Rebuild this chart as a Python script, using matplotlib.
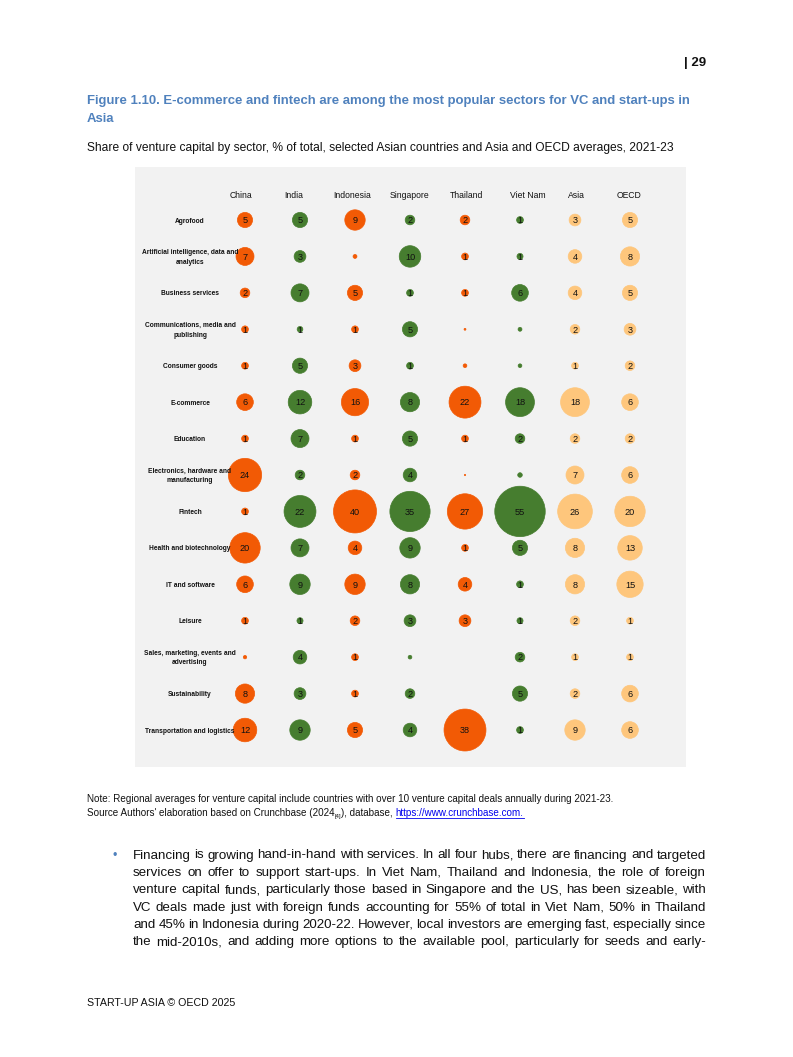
import matplotlib
matplotlib.use("Agg")
import matplotlib.pyplot as plt
from matplotlib import font_manager
import numpy as np

# ---------------- data ----------------
columns = ["China", "India", "Indonesia", "Singapore", "Thailand", "Viet Nam", "Asia", "OECD"]
sectors = ["Agrofood", "Artificial intelligence, data and\nanalytics", "Business services",
           "Communications, media and\npublishing", "Consumer goods", "E-commerce", "Education",
           "Electronics, hardware and\nmanufacturing", "Fintech", "Health and biotechnology",
           "IT and software", "Leisure", "Sales, marketing, events and\nadvertising",
           "Sustainability", "Transportation and logistics"]
china     = [5, 7, 2, 1, 1, 6, 1, 24, 1, 20, 6, 1, 0.25, 8, 12]
india     = [5, 3, 7, 0.7, 5, 12, 7, 2, 22, 7, 9, 0.8, 4, 3, 9]
indonesia = [9, 0.33, 5, 1, 3, 16, 1, 2, 40, 4, 9, 2, 1, 1, 5]
singapore = [2, 10, 1, 5, 1, 8, 5, 4, 35, 9, 8, 3, 0.3, 2, 4]
thailand  = [2, 1, 1, 0.08, 0.3, 22, 1, 0.04, 27, 1, 4, 3, 0, 0, 38]
viet_nam  = [1, 0.8, 6, 0.33, 0.3, 18, 2, 0.45, 55, 5, 1, 0.8, 2, 5, 1]
asia      = [3, 4, 4, 2, 1, 18, 2, 7, 26, 8, 8, 2, 1, 2, 9]
oecd      = [5, 8, 5, 3, 2, 6, 2, 6, 20, 13, 15, 1, 1, 6, 6]
series = [china, india, indonesia, singapore, thailand, viet_nam, asia, oecd]

ORANGE, GREEN, LIGHT = "#F25A05", "#467D2F", "#FEC67C"
col_colors = [ORANGE, GREEN, ORANGE, GREEN, ORANGE, GREEN, LIGHT, LIGHT]
header_shift_px = [-4, -6, -3, 0, 1, 8, 1, -1]

# ---------------- fonts ----------------
def has_font(name):
    try:
        font_manager.findfont(name, fallback_to_default=False)
        return True
    except Exception:
        return False

BASE = "Liberation Sans" if has_font("Liberation Sans") else "DejaVu Sans"
NARROW = "Liberation Sans Narrow" if has_font("Liberation Sans Narrow") else BASE
plt.rcParams["font.family"] = [BASE, "DejaVu Sans"]

W, H = 793, 1057
fig = plt.figure(figsize=(W / 100, H / 100), dpi=100)
fig.patch.set_facecolor("white")

def fx(x):
    return x / W

def fy(y):
    return 1 - y / H

# ---------------- chart panel ----------------
L, R, T, B = 135, 686, 167, 767
ax = fig.add_axes([fx(L), fy(B), (R - L) / W, (B - T) / H])
ax.set_facecolor("#F2F2F2")
for s in ax.spines.values():
    s.set_visible(False)
ax.set_xticks([])
ax.set_yticks([])
x0, dx = 245, 55.0
y0, dy = 220, 36.43
ax.set_xlim((L - x0) / dx, (R - x0) / dx)
ax.set_ylim((B - y0) / dy, (T - y0) / dy)

K = 24.0  # points^2 per unit
rows = np.arange(len(sectors))
for i, (vals, c) in enumerate(zip(series, col_colors)):
    v = np.array(vals, dtype=float)
    mask = v > 0
    ax.scatter(np.full(mask.sum(), i), rows[mask], s=v[mask] * K, color=c,
               linewidths=0.5, edgecolors=c, zorder=2)
    for j, val in enumerate(vals):
        if val >= 0.5:
            ax.text(i, j + 0.02, f"{int(round(val))}", ha="center", va="center",
                    fontsize=6.6, color="#111111", zorder=3)

for i, name in enumerate(columns):
    ax.text(i + header_shift_px[i] / dx, (195 - y0) / dy, name, ha="center", va="center",
            fontsize=6.2, color="#111111")

for j, name in enumerate(sectors):
    ax.text((190 - x0) / dx, j + 0.03, name, ha="center", va="center", fontsize=4.8,
            fontweight="bold", color="#111111", linespacing=1.45)

# ---------------- page text ----------------
renderer = fig.canvas.get_renderer()

def width_px(t):
    return t.get_window_extent(renderer=renderer).width

def put(x, y, s, **kw):
    kw.setdefault("va", "baseline")
    return fig.text(fx(x), fy(y), s, **kw)

def fit(x, y, s, target, size, **kw):
    t = put(x, y, s, fontsize=size, **kw)
    w = width_px(t)
    if w > 0:
        t.set_fontsize(size * target / w)
    return t

BLUE = "#4F81BD"
put(706, 66, "| 29", ha="right", fontsize=9.5, fontweight="bold", color="#111111")

t1 = fit(87, 104, "Figure 1.10. E-commerce and fintech are among the most popular sectors for VC and start-ups in",
         603, 9, fontweight="bold", color=BLUE, family=[NARROW, BASE])
put(87, 122.5, "Asia", fontsize=t1.get_fontsize(), fontweight="bold", color=BLUE, family=[NARROW, BASE])

fit(87, 151.5, "Share of venture capital by sector, % of total, selected Asian countries and Asia and OECD averages, 2021-23",
    589, 8, color="#111111", family=[NARROW, BASE])

note = fit(87, 802.5, "Note: Regional averages for venture capital include countries with over 10 venture capital deals annually during 2021-23.",
           537, 6, color="#111111", family=[NARROW, BASE])
nsz = note.get_fontsize()

runs = [("Source Authors' elaboration based on Crunchbase (2024", {}),
        ("[4]", {"small": True}),
        ("), database, ", {}),
        ("https://www.crunchbase.com.", {"link": True})]
x = 87
for s, opt in runs:
    if opt.get("small"):
        t = put(x, 818.0, s, fontsize=nsz * 0.6, color="#111111", family=[NARROW, BASE])
    elif opt.get("link"):
        t = put(x, 816.5, s, fontsize=nsz, color="#0000EE", family=[NARROW, BASE])
    else:
        t = put(x, 816.5, s, fontsize=nsz, color="#111111", family=[NARROW, BASE])
    w = width_px(t)
    if opt.get("link"):
        fig.add_artist(plt.Line2D([fx(x), fx(x + w)], [fy(818.3), fy(818.3)],
                                  color="#0000EE", linewidth=0.6, transform=fig.transFigure))
    x += w

# bullet paragraph (justified)
para = ["Financing is growing hand-in-hand with services. In all four hubs, there are financing and targeted",
        "services on offer to support start-ups. In Viet Nam, Thailand and Indonesia, the role of foreign",
        "venture capital funds, particularly those based in Singapore and the US, has been sizeable, with",
        "VC deals made just with foreign funds accounting for 55% of total in Viet Nam, 50% in Thailand",
        "and 45% in Indonesia during 2020-22. However, local investors are emerging fast, especially since",
        "the mid-2010s, and adding more options to the available pool, particularly for seeds and early-"]
pl, pr = 133, 706
ref_size = 10.0
em10 = ref_size * 100 / 72.0
cands = []
for ln in para:
    wds = ln.split(" ")
    probes = [put(0, 0, wd, fontsize=ref_size, family=[NARROW, BASE]) for wd in wds]
    S = sum(width_px(p) for p in probes)
    for p in probes:
        p.remove()
    cands.append(ref_size * (pr - pl) / (S + (len(wds) - 1) * 0.2 * em10))
psize = min(cands)

put(112, 858.5, "\u2022", fontsize=9, color=BLUE)
for k, line in enumerate(para):
    yb = 858.5 + k * 17.35
    words = line.split(" ")
    texts = [put(0, yb, wd, fontsize=psize, color="#111111", family=[NARROW, BASE]) for wd in words]
    ws = [width_px(t) for t in texts]
    gap = (pr - pl - sum(ws)) / (len(words) - 1)
    xx = pl
    for t, w in zip(texts, ws):
        t.set_x(fx(xx))
        xx += w + gap

put(87, 1006, "START-UP ASIA \u00a9 OECD 2025", fontsize=7.7, color="#111111", family=[NARROW, BASE])

fig.savefig("out.png", dpi=100, facecolor="white")
